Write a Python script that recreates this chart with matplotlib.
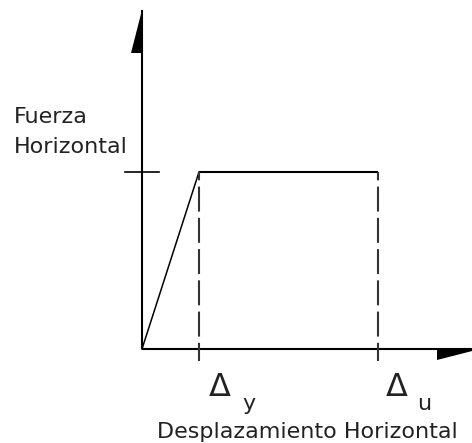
import matplotlib
matplotlib.use("Agg")
import matplotlib.pyplot as plt
from matplotlib.patches import Polygon

# Idealised elastic-perfectly-plastic force/displacement curve (arbitrary units)
delta_y = 57      # yield displacement
delta_u = 236     # ultimate displacement
force_y = 177     # yield force
curve_x = [0, delta_y, delta_u]
curve_y = [0, force_y, force_y]

y_axis_top = 339
x_axis_end = 340

labels_y = ["Fuerza", "Horizontal"]
label_x = "Desplazamiento Horizontal"
sub_y = "y"
sub_u = "u"

W, H = 472, 443
fig = plt.figure(figsize=(W / 100, H / 100), dpi=100)
ax = fig.add_axes([0, 0, 1, 1])
ax.set_xlim(-142, W - 142)
ax.set_ylim(-(H - 349), 349)
ax.axis("off")

k = "black"
tc = "#222222"
# axes
ax.plot([0, 0], [0, y_axis_top], color=k, lw=1.5, solid_capstyle="butt")
ax.plot([0, x_axis_end], [0, 0], color=k, lw=1.5, solid_capstyle="butt")
# half arrowheads
ax.add_patch(Polygon([(0, y_axis_top), (-11, y_axis_top - 43), (0, y_axis_top - 43)],
                     closed=True, color=k, lw=0))
ax.add_patch(Polygon([(295, 0), (295, -11), (338, 0)], closed=True, color=k, lw=0))

# curve
ax.plot(curve_x[:2], curve_y[:2], color=k, lw=1.1)
ax.plot(curve_x[1:], curve_y[1:], color=k, lw=1.5, solid_capstyle="butt")
# tick on force axis
ax.plot([-17, 17], [force_y, force_y], color=k, lw=1.2)

# dashed verticals
for xv in (delta_y, delta_u):
    ax.plot([xv, xv], [force_y, -12], color="#333333", lw=1.5,
            linestyle=(8, (12, 3)), dash_capstyle="butt")

fs = 16
ax.text(-128, 226, labels_y[0], fontsize=fs, va="baseline", ha="left",
        family="DejaVu Sans", color=tc)
ax.text(-128, 196, labels_y[1], fontsize=fs, va="baseline", ha="left",
        family="DejaVu Sans", color=tc)

ax.text(67, -47, "Δ", fontsize=23, va="baseline", ha="left", color=tc)
ax.text(100, -61, sub_y, fontsize=fs, va="baseline", ha="left", color=tc)
ax.text(244, -47, "Δ", fontsize=23, va="baseline", ha="left", color=tc)
ax.text(275, -61, sub_u, fontsize=fs, va="baseline", ha="left", color=tc)

ax.text(165, -89, label_x, fontsize=fs, va="baseline", ha="center", color=tc)

fig.savefig("out.png", dpi=100)
